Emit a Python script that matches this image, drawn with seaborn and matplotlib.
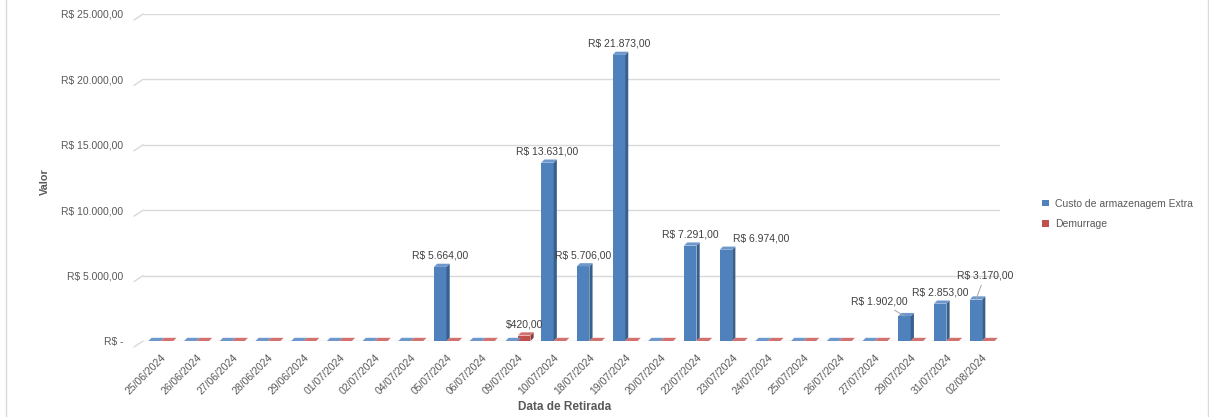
import matplotlib
matplotlib.use("Agg")
import matplotlib.pyplot as plt
from matplotlib.patches import Polygon, Rectangle
import matplotlib.transforms as mtransforms
import pandas as pd
import seaborn as sns

# ---- data -------------------------------------------------------------
datas = [
    "25/06/2024", "26/06/2024", "27/06/2024", "28/06/2024", "29/06/2024",
    "01/07/2024", "02/07/2024", "04/07/2024", "05/07/2024", "06/07/2024",
    "09/07/2024", "10/07/2024", "18/07/2024", "19/07/2024", "20/07/2024",
    "22/07/2024", "23/07/2024", "24/07/2024", "25/07/2024", "26/07/2024",
    "27/07/2024", "29/07/2024", "31/07/2024", "02/08/2024",
]
custo_extra = [0, 0, 0, 0, 0, 0, 0, 0, 5664, 0, 0, 13631, 5706, 21873, 0,
               7291, 6974, 0, 0, 0, 0, 1902, 2853, 3170]
demurrage = [0, 0, 0, 0, 0, 0, 0, 0, 0, 0, 420, 0, 0, 0, 0,
             0, 0, 0, 0, 0, 0, 0, 0, 0]
series_names = ["Custo de armazenagem Extra", "Demurrage"]
label_prefixes = ["R$ ", "$"]
y_ticks = [0, 5000, 10000, 15000, 20000, 25000]

# ---- styling ----------------------------------------------------------
sns.set_theme(style="white")
plt.rcParams["font.family"] = ["Liberation Sans", "DejaVu Sans"]

front_colors = ["#4F81BD", "#C0504D"]
side_colors = ["#38608F", "#8E3835"]
top_colors = ["#6E98CC", "#D2726F"]
grid_color = "#D9D9D9"
tick_color = "#595959"
label_color = "#404040"


def brl(v, prefix="R$ "):
    s = f"{v:,.2f}".replace(",", "X").replace(".", ",").replace("X", ".")
    return prefix + s


df = pd.DataFrame({
    "Data de Retirada": datas * 2,
    "Valor": custo_extra + demurrage,
    "Série": [series_names[0]] * len(datas) + [series_names[1]] * len(datas),
})

W, H = 1209, 417
fig = plt.figure(figsize=(W / 100, H / 100), dpi=100)
ax_left, ax_right, ax_top, ax_bottom = 143, 1000, 14, 341
ax = fig.add_axes([ax_left / W, 1 - ax_bottom / H,
                   (ax_right - ax_left) / W, (ax_bottom - ax_top) / H])

sns.barplot(data=df, x="Data de Retirada", y="Valor", hue="Série",
            hue_order=series_names, palette=front_colors, saturation=1,
            width=0.7, ax=ax, zorder=3, linewidth=0)

ax.set_ylim(y_ticks[0], y_ticks[-1])
ax.set_xlim(-0.5, len(datas) - 0.5)
ax.set_yticks(y_ticks)
ax.set_yticklabels(["R$ -" if t == 0 else brl(t) for t in y_ticks])
ax.grid(axis="y", color=grid_color, linewidth=1, zorder=0)
ax.grid(axis="x", visible=False)
for sp in ax.spines.values():
    sp.set_visible(False)
ax.tick_params(axis="y", length=0, pad=14, labelsize=7.5, labelcolor=tick_color)
ax.tick_params(axis="x", length=0, pad=8, labelsize=7.5, labelcolor=tick_color)
plt.setp(ax.get_xticklabels(), rotation=45, ha="right", rotation_mode="anchor")

# pixel -> data scale factors
ax_h_px = ax_bottom - ax_top
ax_w_px = ax_right - ax_left
px_y = (y_ticks[-1] - y_ticks[0]) / ax_h_px
px_x = len(datas) / ax_w_px

# slanted stubs of the 3D back wall at each gridline
stub_tr = mtransforms.blended_transform_factory(ax.transAxes, ax.transData)
for t in y_ticks:
    ax.plot([-9 / ax_w_px, 0], [t - 6 * px_y, t], color=grid_color, lw=1,
            transform=stub_tr, clip_on=False, zorder=0)

# depth faces for each bar
dx, dy = 3.2 * px_x, 3.2 * px_y
for k, container in enumerate(ax.containers):
    for bar in container:
        x0, w, h = bar.get_x(), bar.get_width(), bar.get_height()
        side = Polygon([(x0 + w, 0), (x0 + w + dx, dy), (x0 + w + dx, h + dy),
                        (x0 + w, h)], closed=True, facecolor=side_colors[k],
                       edgecolor="none", zorder=4)
        top = Polygon([(x0, h), (x0 + dx, h + dy), (x0 + w + dx, h + dy),
                       (x0 + w, h)], closed=True, facecolor=top_colors[k],
                      edgecolor="none", zorder=4)
        ax.add_patch(side)
        ax.add_patch(top)

# data labels (offsets in pixels from the top of each bar)
label_offsets = {(0, 16): (35, 11), (0, 21): (-25, 15), (0, 23): (9, 24)}
leader_lines = {(0, 21), (0, 23)}
values = [custo_extra, demurrage]
for k, container in enumerate(ax.containers):
    for i, bar in enumerate(container):
        v = values[k][i]
        if v == 0:
            continue
        cx = bar.get_x() + bar.get_width() / 2
        off = label_offsets.get((k, i), (0, 11))
        arrow = None
        if (k, i) in leader_lines:
            arrow = dict(arrowstyle="-", color="#A6A6A6", lw=0.7,
                         shrinkA=1, shrinkB=0)
        ax.annotate(brl(v, label_prefixes[k]), xy=(cx, v), xytext=off,
                    textcoords="offset pixels", ha="center", va="center",
                    fontsize=7.5, color=label_color, arrowprops=arrow,
                    zorder=6, annotation_clip=False)

# axis titles
ax.set_xlabel("Data de Retirada", fontsize=8.5, fontweight="bold", color=tick_color)
ax.set_ylabel("Valor", fontsize=7.8, fontweight="bold", color=tick_color)
ax.xaxis.set_label_coords((565 - ax_left) / ax_w_px, (ax_bottom - 401) / ax_h_px)
ax.yaxis.set_label_coords((50 - ax_left) / ax_w_px, (ax_bottom - 182) / ax_h_px)

# legend
sns.move_legend(ax, loc="center left", bbox_to_anchor=(1033 / W, 1 - 214 / H),
                bbox_transform=fig.transFigure, frameon=False, title=None,
                fontsize=7.5, handlelength=0.6, handleheight=0.6,
                handletextpad=0.6, labelspacing=1.0)
for txt in ax.get_legend().get_texts():
    txt.set_color(tick_color)

# chart-area frame
fig.patches.append(Rectangle((6 / W, -0.01), (1208 - 6) / W, 1.05, fill=False,
                             edgecolor=grid_color, lw=1,
                             transform=fig.transFigure))

fig.savefig("out.png", dpi=100)
